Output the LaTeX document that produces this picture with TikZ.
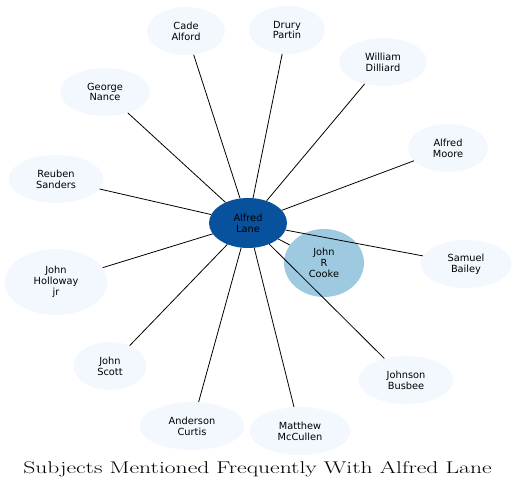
\documentclass[tikz,border=0pt]{standalone}
\usepackage{fontspec}
\newfontfamily\labelfont{DejaVu Sans}
\usetikzlibrary{shapes.geometric}
\definecolor{laneblue}{HTML}{08519C}
\definecolor{cookeblue}{HTML}{9ECAE1}
\definecolor{paleblue}{HTML}{F3F8FE}
\begin{document}
\begin{tikzpicture}[
    x=1pt, y=-1pt,
    subject/.style={ellipse, fill=paleblue, inner sep=0pt, minimum height=48pt,
      align=center, font=\labelfont\fontsize{9.8}{10.8}\selectfont},
    link/.style={line width=0.8pt, black}
  ]
    \useasboundingbox (0,0) rectangle (517,492);

    % Centre and close subject
    \node[subject, fill=laneblue, minimum width=78pt, minimum height=50pt] (lane) at (248,223) {Alfred\\Lane};
    \node[subject, fill=cookeblue, minimum width=80pt, minimum height=68pt] (cooke) at (324,263) {John\\R\\Cooke};

    % Other subjects
    \node[subject, minimum width=78pt] (cade) at (186,31) {Cade\\Alford};
    \node[subject, minimum width=76pt] (drury) at (287,30) {Drury\\Partin};
    \node[subject, minimum width=88pt] (william) at (383,62) {William\\Dilliard};
    \node[subject, minimum width=80pt] (moore) at (448,148) {Alfred\\Moore};
    \node[subject, minimum width=91pt] (samuel) at (466,264) {Samuel\\Bailey};
    \node[subject, minimum width=95pt] (johnson) at (406,380) {Johnson\\Busbee};
    \node[subject, minimum width=101pt] (matthew) at (300,431) {Matthew\\McCullen};
    \node[subject, minimum width=105pt] (anderson) at (192,426) {Anderson\\Curtis};
    \node[subject, minimum width=73pt] (scott) at (110,366) {John\\Scott};
    \node[subject, minimum width=103pt, minimum height=66pt] (holloway) at (56,282) {John\\Holloway\\jr};
    \node[subject, minimum width=95pt] (reuben) at (56,179) {Reuben\\Sanders};
    \node[subject, minimum width=90pt] (george) at (105,92) {George\\Nance};

    % Connections
    \foreach \s in {cooke,cade,drury,william,moore,samuel,johnson,matthew,anderson,scott,holloway,reuben,george}
      \draw[link] (lane) -- (\s);

    \node (title) at (257.5,469) {\scalebox{1.386}[1]{\fontsize{17}{19}\selectfont Subjects Mentioned Frequently With Alfred Lane}};

  \end{tikzpicture}
\end{document}
